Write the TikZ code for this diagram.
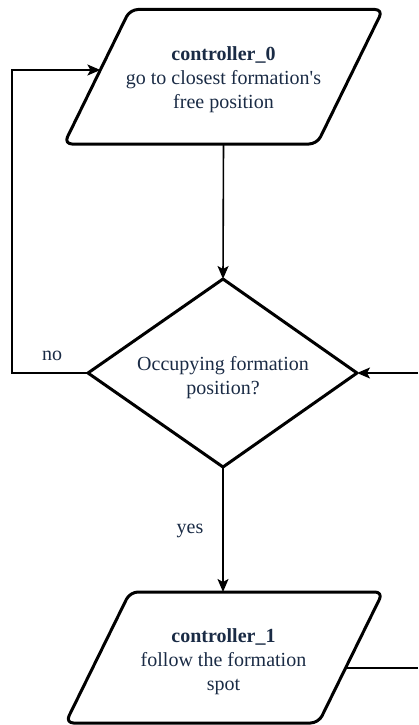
\documentclass[tikz,border=0pt]{standalone}
\usepackage{fontspec}
\setmainfont{Liberation Serif}
\usetikzlibrary{arrows.meta}
\definecolor{txtc}{HTML}{1A2B45}
\begin{document}
\begin{tikzpicture}[x=1pt,y=-1pt,
  shapeline/.style={line width=3pt, line join=round},
  conn/.style={line width=1.6pt, -{Stealth[length=13pt,width=11pt,inset=3pt]}},
  plainconn/.style={line width=1.6pt},
  lbl/.style={text=txtc, font=\fontsize{20}{24}\selectfont, align=center, inner sep=0pt},
  ]
\useasboundingbox (0,0) rectangle (418,725);
% shape outlines
\draw[shapeline, rounded corners=8pt] (256,9.5) -- (383,9.5) -- (317,144) -- (64,144) -- (130,9.5) -- cycle;
\draw[shapeline] (223,279) -- (357,373) -- (223,467) -- (88,373) -- cycle;
\draw[shapeline, rounded corners=8pt] (256,592) -- (383,592) -- (318.5,723) -- (65.5,723) -- (130,592) -- cycle;
% anchor coordinates
\coordinate (p0B) at (223.5,144);
\coordinate (p0L) at (100.4,70);
\coordinate (dT) at (223,279);
\coordinate (dB) at (223,467);
\coordinate (dL) at (88,373);
\coordinate (dR) at (357,373);
\coordinate (p1T) at (223,592);
\coordinate (p1R) at (345.6,668);
\coordinate (loopC) at (12,70);
\coordinate (exitR) at (418,668);
\coordinate (entR) at (418,373);
% texts
\node[lbl] (t0) at (223.5,80) {\textbf{controller\_0}\\go to closest formation\textquotesingle s\\free position};
\node[lbl] (td) at (223,378) {Occupying formation\\position?};
\node[lbl] (t1) at (223.5,662) {\textbf{controller\_1}\\follow the formation\\spot};
\node[lbl] (no) at (52,355.5) {no};
\node[lbl] (yes) at (190,531) {yes};
% connectors
\draw[conn] (p0B) -- (dT);
\draw[conn] (dL) -| (loopC) -- (p0L);
\draw[conn] (dB) -- (p1T);
\draw[plainconn] (p1R) -- (exitR);
\draw[conn] (entR) -- (dR);
\end{tikzpicture}
\end{document}
